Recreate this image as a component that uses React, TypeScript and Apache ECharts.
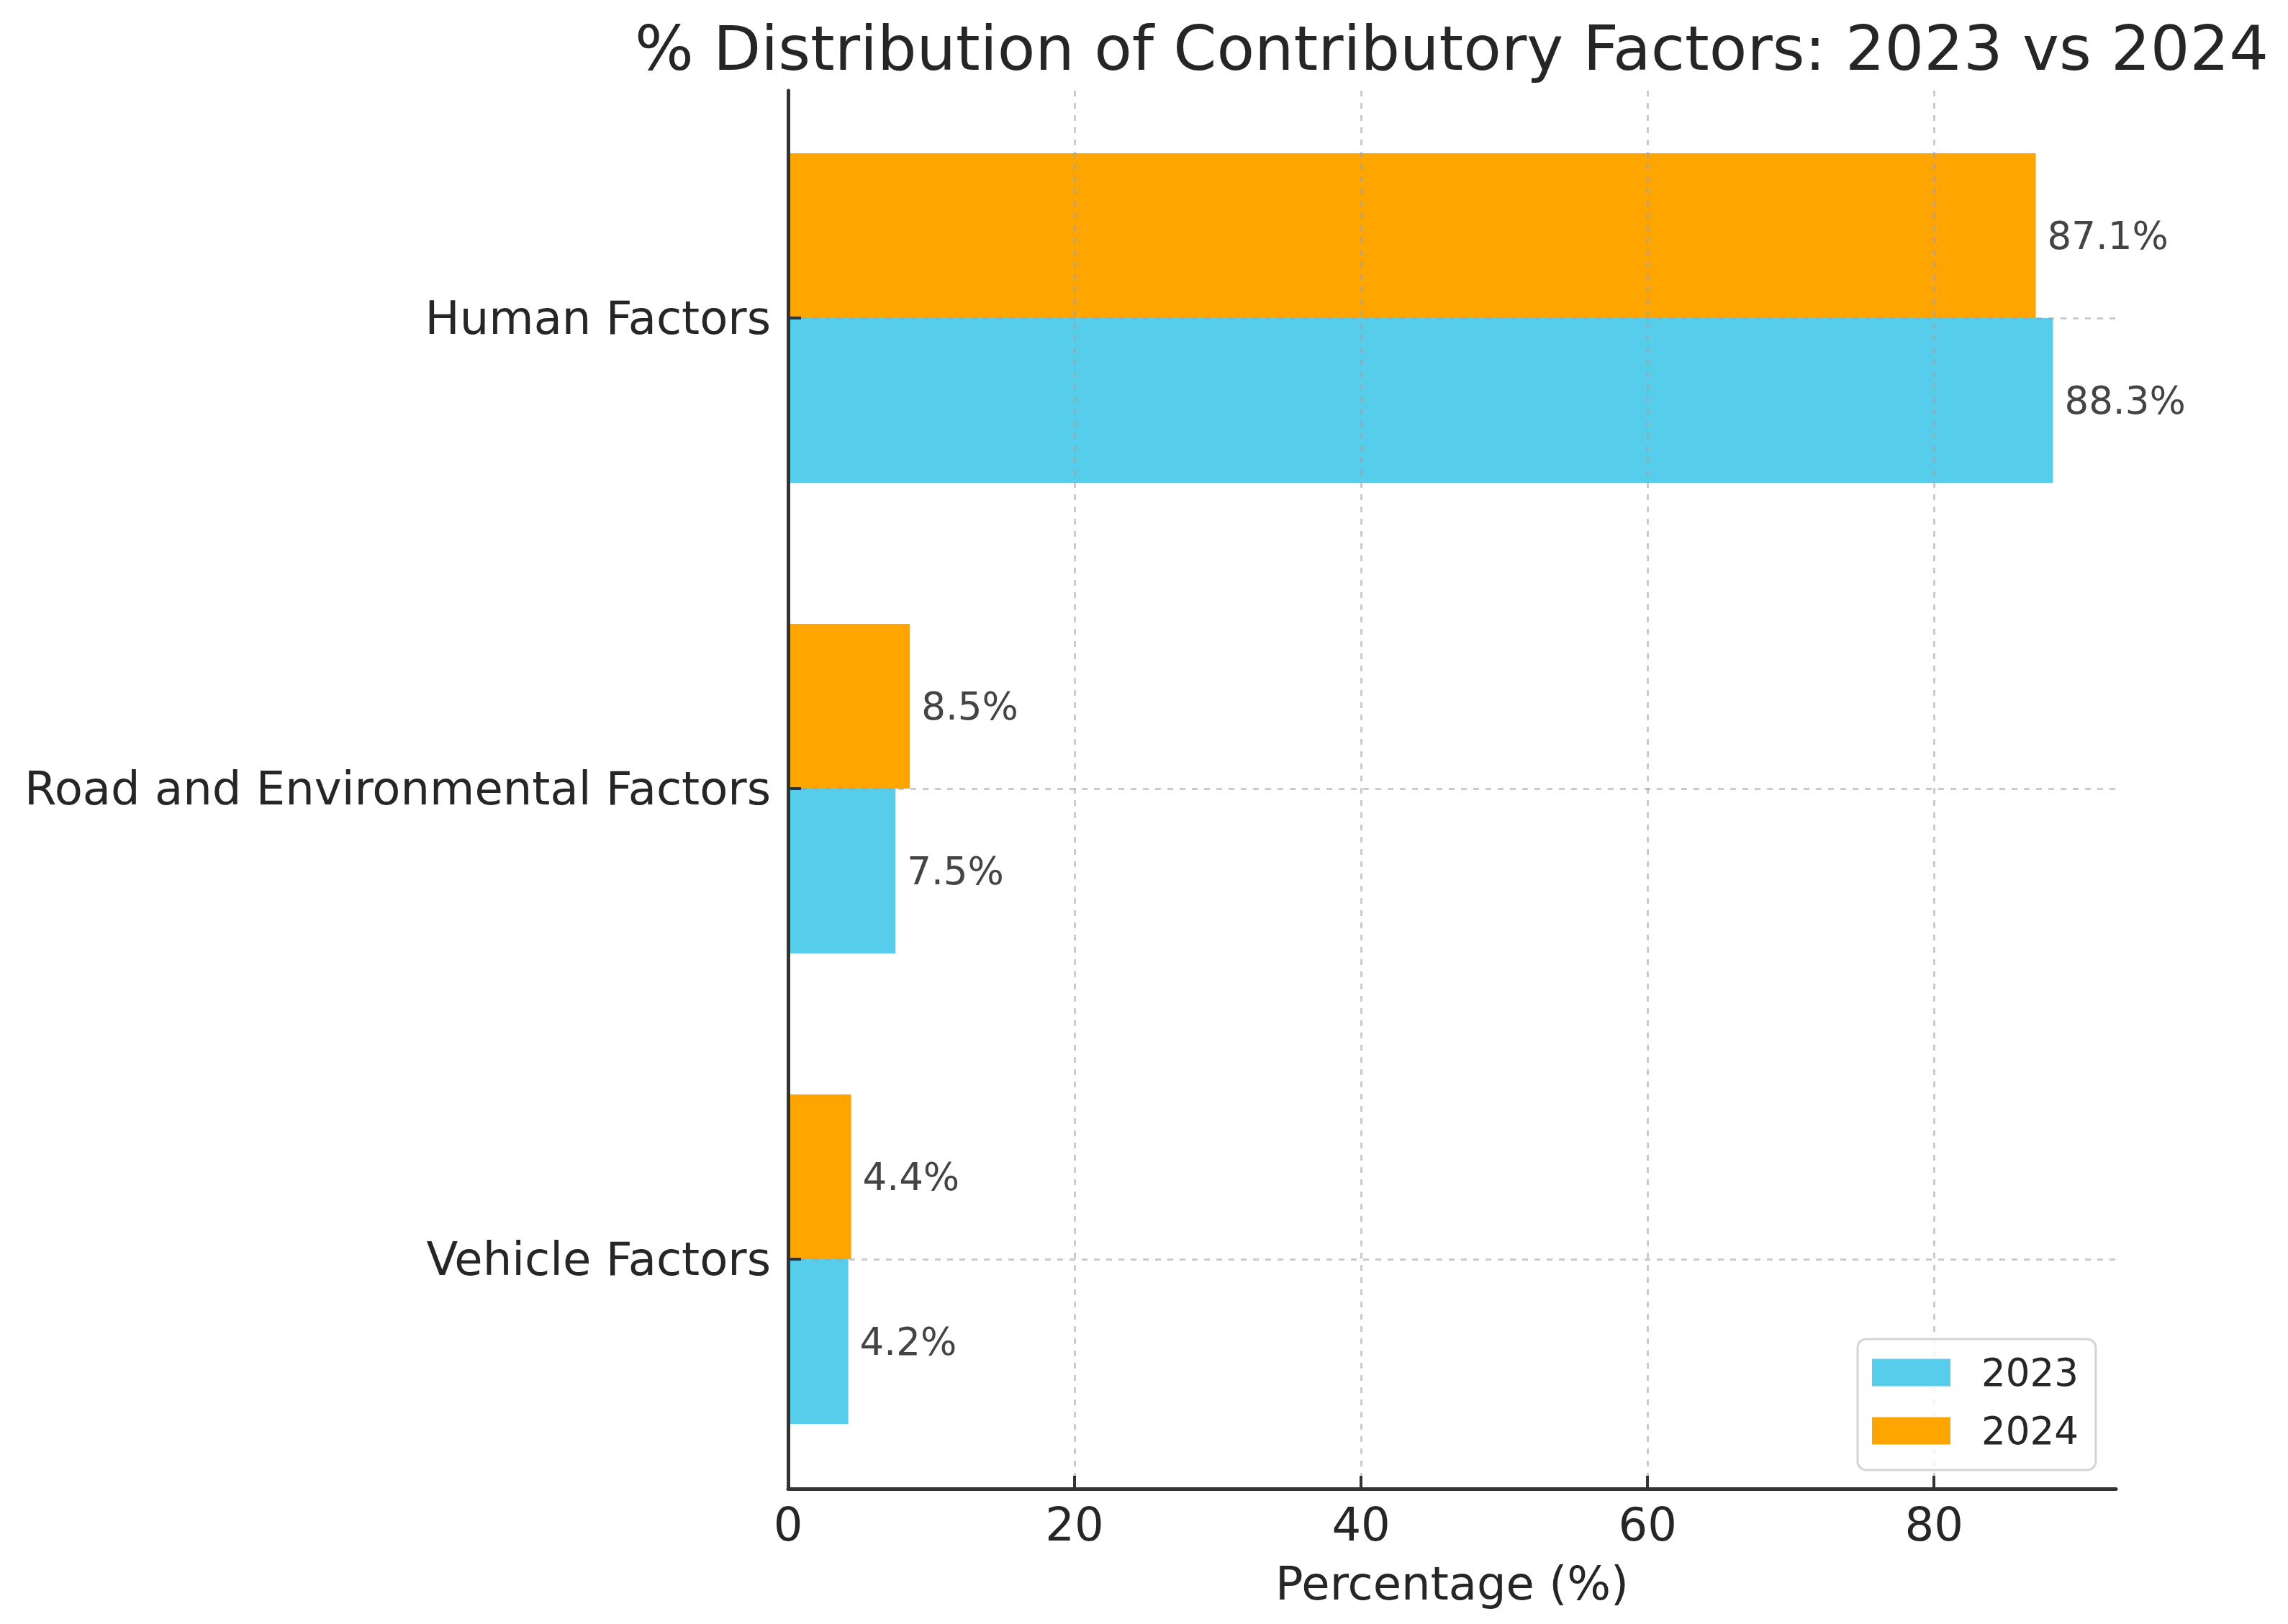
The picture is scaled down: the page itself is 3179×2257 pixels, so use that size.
import React, { useEffect, useRef } from "react";
import * as echarts from "echarts";

const categories = ["Human Factors", "Road and Environmental Factors", "Vehicle Factors"];
const values2023 = [88.3, 7.5, 4.2];
const values2024 = [87.1, 8.5, 4.4];
const xTicks = [0, 20, 40, 60, 80];
const seriesNames = ["2023", "2024"];

const W = 3179;
const H = 2257;
const FONT = "DejaVu Sans";
const X_MAX = 92.7;

export default function App() {
  const ref = useRef<HTMLDivElement>(null);
  useEffect(() => {
    document.body.style.margin = "0";
    const chart = echarts.init(ref.current!, null, { renderer: "svg" });
    const gridStyle = { color: "rgba(160,160,160,0.55)", width: 3, type: [8, 9] };
    const label = {
      show: true,
      position: "right",
      distance: 16,
      fontFamily: FONT,
      fontSize: 53,
      color: "#444",
      formatter: (p: any) => `${p.value.toFixed(1)}%`,
    };
    chart.setOption({
      animation: false,
      backgroundColor: "#fff",
      textStyle: { fontFamily: FONT },
      title: {
        text: "% Distribution of Contributory Factors: 2023 vs 2024",
        left: 2017,
        top: 24,
        padding: 0,
        textAlign: "center",
        textStyle: { fontFamily: FONT, fontSize: 86, fontWeight: "normal", color: "#262626" },
      },
      legend: {
        data: seriesNames,
        orient: "vertical",
        left: 2581,
        top: 1861,
        padding: [20, 24, 28, 20],
        itemWidth: 109,
        itemHeight: 38,
        itemGap: 28,
        icon: "rect",
        backgroundColor: "rgba(255,255,255,0.8)",
        borderColor: "#d4d4d4",
        borderWidth: 3,
        borderRadius: 12,
        textStyle: { fontFamily: FONT, fontSize: 53, color: "#262626", padding: [0, 0, 0, 38], lineHeight: 53 },
      },
      grid: [
        { left: 1095, top: 115, width: 1845, height: 1962, containLabel: false },
        { left: 1095, top: 126, width: 1845, height: 1943, containLabel: false },
      ],
      xAxis: [
        {
          gridIndex: 0,
          type: "value",
          min: 0,
          max: X_MAX,
          show: false,
        },
        {
          gridIndex: 1,
          type: "value",
          min: 0,
          max: X_MAX,
          interval: 20,
          z: 3,
          name: "Percentage (%)",
          nameLocation: "middle",
          nameGap: 100,
          nameTextStyle: { fontFamily: FONT, fontSize: 64, color: "#262626" },
          axisLine: { show: true, lineStyle: { color: "#333", width: 5 } },
          axisTick: { show: true, inside: true, length: 18, lineStyle: { color: "#333", width: 4 }, customValues: xTicks },
          axisLabel: { fontFamily: FONT, fontSize: 64, color: "#262626", margin: 18, customValues: xTicks },
          splitLine: { show: true, lineStyle: gridStyle },
        },
      ],
      yAxis: [
        {
          gridIndex: 0,
          type: "category",
          data: categories,
          inverse: true,
          z: 3,
          axisLine: { show: false },
          axisTick: { show: true, inside: true, alignWithLabel: true, length: 18, lineStyle: { color: "#333", width: 4 } },
          axisLabel: { fontFamily: FONT, fontSize: 64, color: "#262626", margin: 24 },
          splitLine: { show: true, alignWithLabel: true, lineStyle: gridStyle },
        },
        {
          gridIndex: 1,
          type: "value",
          min: 0,
          max: 1,
          z: 3,
          axisLine: { show: true, lineStyle: { color: "#333", width: 5 } },
          axisTick: { show: false },
          axisLabel: { show: false },
          splitLine: { show: false },
        },
      ],
      series: [
        {
          name: "2024",
          type: "bar",
          xAxisIndex: 0,
          yAxisIndex: 0,
          data: values2024,
          barWidth: 229,
          barGap: "0%",
          itemStyle: { color: "#FFA500" },
          label,
        },
        {
          name: "2023",
          type: "bar",
          xAxisIndex: 0,
          yAxisIndex: 0,
          data: values2023,
          barWidth: 229,
          barGap: "0%",
          itemStyle: { color: "#57CDEC" },
          label,
        },
      ],
    });
    return () => chart.dispose();
  }, []);
  return <div ref={ref} style={{ width: W, height: H }} />;
}
